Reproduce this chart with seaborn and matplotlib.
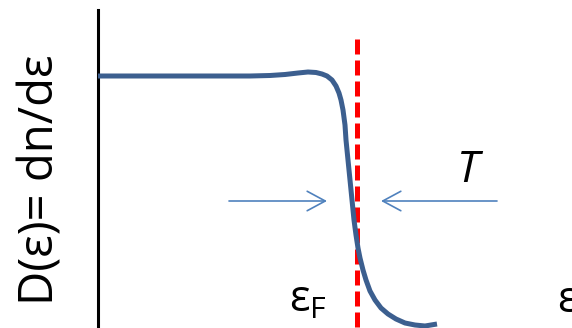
import matplotlib
matplotlib.use("Agg")
import matplotlib.pyplot as plt
from matplotlib.patches import FancyArrowPatch
import seaborn as sns
import pandas as pd

sns.set_style("white")
plt.rcParams["font.family"] = ["Open Sans", "DejaVu Sans"]
plt.rcParams["text.color"] = "black"

# Density of states near the Fermi level (energy measured from eps_F)
energy = [-259, -207, -157, -107, -87, -72, -59, -49, -41, -35, -30, -25,
          -21, -18, -16, -14, -12, -11, -9, -7, -5, -3, -1, 1, 3, 6, 9,
          13, 18, 24, 31, 39, 48, 58, 68, 80]
dos = [252, 252, 252, 252, 252.5, 253.5, 255, 256, 255.5, 254, 252, 248,
       242, 235, 228, 218, 203, 188, 168, 148, 128, 108, 93, 80, 70, 58, 48,
       37, 28, 20, 14, 9, 5, 3, 2, 4]

fermi_level = 0
fermi_line_top = 289
arrow_height = 127
left_arrow = (-128, -30)
right_arrow = (140, 24)

ylabel_text = "D(ε)= dn/dε"
fermi_label = r"$\mathregular{ε_F}$"
temp_label = "T"
energy_label = "ε"

df = pd.DataFrame({"energy": energy, "dos": dos})

fig = plt.figure(figsize=(5.72, 3.28), dpi=100)
ax = fig.add_axes([98 / 572, 0, 474 / 572, 318 / 328])
ax.set_xlim(-259, 215)
ax.set_ylim(0, 318)

# Fermi level marker
ax.plot([fermi_level, fermi_level], [fermi_line_top, 0], color="#FF0000",
        lw=3.6, dashes=(3.0, 1.2), solid_capstyle="butt",
        dash_capstyle="butt", zorder=1)

sns.lineplot(data=df, x="energy", y="dos", ax=ax, color="#3C5F8F",
             lw=3.6, estimator=None, sort=False, zorder=3,
             solid_joinstyle="round", solid_capstyle="butt")

for x0, x1 in (left_arrow, right_arrow):
    ax.add_patch(FancyArrowPatch((x0, arrow_height), (x1, arrow_height),
                                 arrowstyle="->,head_length=13,head_width=7",
                                 mutation_scale=1, color="#4F81BD", lw=1.2,
                                 shrinkA=0, shrinkB=0, zorder=2))

for side in ("top", "right", "bottom"):
    ax.spines[side].set_visible(False)
ax.spines["left"].set_color("black")
ax.spines["left"].set_linewidth(2.2)
ax.set_xticks([])
ax.set_yticks([])
ax.set_xlabel("")
ax.set_ylabel("")

ax.text(-316, 148, ylabel_text, rotation=90, ha="center", va="center",
        fontsize=34, color="black", clip_on=False)
ax.text(-49, 16, fermi_label, ha="center", va="baseline", fontsize=31,
        color="black", clip_on=False)
ax.text(111, 157, temp_label, ha="center", va="center", fontsize=32,
        style="italic", color="black", clip_on=False)
ax.text(200, 16, energy_label, ha="left", va="baseline", fontsize=31,
        color="black", clip_on=False)

fig.savefig("out.png", dpi=100)
